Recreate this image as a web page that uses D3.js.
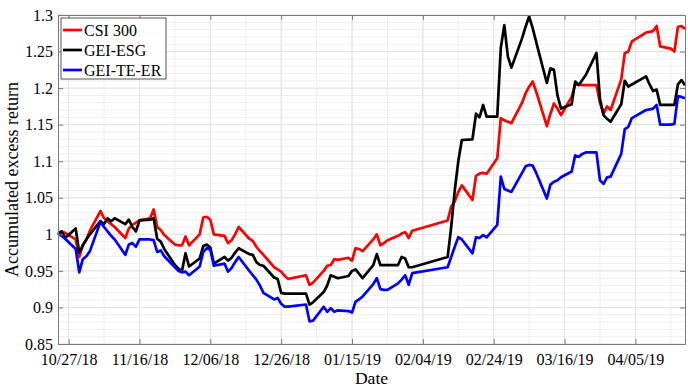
<!DOCTYPE html>
<html><head><meta charset="utf-8">
<script src="https://cdn.jsdelivr.net/npm/d3@7/dist/d3.min.js"></script>
<style>
html,body{margin:0;padding:0;background:#fff;} svg{display:block;}
</style>
</head><body>
<svg id="chart" width="688" height="388"></svg>
<script>
const dates = ["2018-10-24","2018-10-25","2018-10-26","2018-10-29","2018-10-30","2018-10-31","2018-11-01","2018-11-02",
"2018-11-05","2018-11-06","2018-11-07","2018-11-08","2018-11-09","2018-11-12","2018-11-13","2018-11-14","2018-11-15","2018-11-16",
"2018-11-19","2018-11-20","2018-11-21","2018-11-22","2018-11-23","2018-11-26","2018-11-27","2018-11-28","2018-11-29","2018-11-30",
"2018-12-03","2018-12-04","2018-12-05","2018-12-06","2018-12-07","2018-12-10","2018-12-11","2018-12-12","2018-12-13","2018-12-14",
"2018-12-17","2018-12-18","2018-12-19","2018-12-20","2018-12-21","2018-12-24","2018-12-25","2018-12-26","2018-12-27","2018-12-28",
"2019-01-02","2019-01-03","2019-01-04","2019-01-07","2019-01-08","2019-01-09","2019-01-10","2019-01-11","2019-01-14","2019-01-15",
"2019-01-16","2019-01-17","2019-01-18","2019-01-21","2019-01-22","2019-01-23","2019-01-24","2019-01-25","2019-01-28","2019-01-29",
"2019-01-30","2019-01-31","2019-02-01","2019-02-11","2019-02-12","2019-02-13","2019-02-14","2019-02-15","2019-02-18","2019-02-19",
"2019-02-20","2019-02-21","2019-02-22","2019-02-25","2019-02-26","2019-02-27","2019-02-28","2019-03-01","2019-03-04","2019-03-05",
"2019-03-06","2019-03-07","2019-03-08","2019-03-11","2019-03-12","2019-03-13","2019-03-14","2019-03-15","2019-03-18","2019-03-19",
"2019-03-20","2019-03-21","2019-03-22","2019-03-25","2019-03-26","2019-03-27","2019-03-28","2019-03-29","2019-04-01","2019-04-02",
"2019-04-03","2019-04-04","2019-04-08","2019-04-09","2019-04-10","2019-04-11","2019-04-12","2019-04-15","2019-04-16","2019-04-17",
"2019-04-18","2019-04-19"];

const csi300 = [1.002,1.004,1.002,0.993,0.969,0.985,0.993,1.005,
1.032,1.022,1.018,1.014,1.010,0.995,1.008,1.013,1.016,1.019,
1.022,1.034,1.010,1.006,0.999,0.986,0.985,0.985,0.997,0.985,
1.000,1.023,1.024,1.020,1.000,0.998,0.988,0.992,1.000,1.010,
0.994,0.991,0.983,0.977,0.972,0.955,0.952,0.949,0.943,0.939,
0.944,0.931,0.934,0.950,0.957,0.958,0.966,0.965,0.968,0.964,
0.981,0.980,0.977,0.993,1.000,0.985,0.988,0.992,0.998,1.001,
1.003,0.995,1.005,1.019,1.038,1.045,1.058,1.067,1.047,1.080,
1.083,1.084,1.083,1.104,1.159,1.156,1.154,1.152,1.180,1.193,
1.202,1.209,1.195,1.148,1.165,1.179,1.172,1.163,1.188,1.205,
1.205,1.204,1.204,1.204,1.180,1.165,1.175,1.170,1.212,1.248,
1.250,1.264,1.276,1.277,1.278,1.285,1.257,1.254,1.250,1.284,
1.285,1.281];

const geiEsg = [1.000,1.004,0.995,1.008,0.975,0.985,0.993,1.000,
1.018,1.014,1.022,1.018,1.022,1.014,1.020,1.010,1.004,1.019,
1.020,1.022,0.994,0.990,0.980,0.958,0.953,0.950,0.974,0.956,
0.967,0.984,0.986,0.982,0.960,0.969,0.964,0.968,0.975,0.981,
0.973,0.972,0.962,0.958,0.957,0.941,0.939,0.920,0.919,0.919,
0.919,0.904,0.907,0.921,0.930,0.944,0.942,0.940,0.943,0.950,
0.952,0.946,0.940,0.958,0.973,0.958,0.958,0.958,0.958,0.969,
0.967,0.955,0.955,0.969,1.010,1.060,1.100,1.129,1.130,1.165,
1.160,1.177,1.161,1.161,1.255,1.286,1.243,1.228,1.268,1.284,
1.298,1.282,1.263,1.207,1.227,1.225,1.190,1.172,1.178,1.209,
1.204,1.211,1.218,1.248,1.185,1.163,1.158,1.154,1.178,1.210,
1.202,1.205,1.216,1.205,1.196,1.198,1.177,1.177,1.177,1.205,
1.211,1.204];

const geiTeEr = [1.001,0.998,0.994,0.980,0.948,0.966,0.970,0.977,
1.017,1.010,1.004,0.998,0.993,0.972,0.986,0.988,0.983,0.993,
0.993,0.992,0.976,0.978,0.970,0.955,0.950,0.948,0.949,0.944,
0.956,0.976,0.981,0.979,0.957,0.960,0.949,0.954,0.962,0.969,
0.950,0.944,0.938,0.930,0.920,0.911,0.913,0.905,0.901,0.901,
0.904,0.881,0.882,0.901,0.894,0.899,0.894,0.896,0.895,0.893,
0.908,0.911,0.915,0.932,0.940,0.925,0.924,0.924,0.933,0.938,
0.944,0.931,0.947,0.955,0.969,0.983,0.996,0.993,0.974,0.996,
0.995,0.999,0.996,1.013,1.079,1.062,1.060,1.058,1.084,1.093,
1.095,1.094,1.084,1.049,1.068,1.072,1.074,1.078,1.086,1.108,
1.106,1.110,1.112,1.112,1.074,1.069,1.078,1.079,1.110,1.144,
1.147,1.159,1.170,1.171,1.172,1.177,1.150,1.150,1.151,1.189,
1.188,1.186];

const seriesNames = ["CSI 300","GEI-ESG","GEI-TE-ER"];
const seriesColors = ["#ff0000","#000000","#0000ff"];
const xTickDates = ["2018-10-27","2018-11-16","2018-12-06","2018-12-26","2019-01-15","2019-02-04","2019-02-24","2019-03-16","2019-04-05"];
const xTickLabels = ["10/27/18","11/16/18","12/06/18","12/26/18","01/15/19","02/04/19","02/24/19","03/16/19","04/05/19"];
const yTicks = [0.85,0.9,0.95,1,1.05,1.1,1.15,1.2,1.25,1.3];
const yTickLabels = ["0.85","0.9","0.95","1","1.05","1.1","1.15","1.2","1.25","1.3"];

const parse = d3.timeParse("%Y-%m-%d");
const X = dates.map(parse);
const series = [csi300, geiEsg, geiTeEr];

const L = 58, R = 685, T = 15, B = 344;
const svg = d3.select("#chart");
const font = '"Liberation Serif", "Times New Roman", serif';

const x = d3.scaleTime().domain([parse("2018-10-24"), parse("2019-04-19")]).range([L, R]);
const y = d3.scaleLinear().domain([0.85, 1.3]).range([B, T]);

// minor grid
const minorX = d3.timeDay.range(parse("2018-10-27"), parse("2019-04-20"), 1).filter((d,i)=> i % 10 === 0);
const minorY = d3.range(85, 131).map(v => v/100);
const g = svg.append("g");
g.selectAll(".mx").data(minorX).join("line")
  .attr("x1", d=>x(d)).attr("x2", d=>x(d)).attr("y1", T).attr("y2", B)
  .attr("stroke", "#efefef").attr("stroke-width", 1);
g.selectAll(".my").data(minorY).join("line")
  .attr("x1", L).attr("x2", R).attr("y1", d=>y(d)).attr("y2", d=>y(d))
  .attr("stroke", "#efefef").attr("stroke-width", 1);
// major grid
g.selectAll(".gx").data(xTickDates.map(parse)).join("line")
  .attr("x1", d=>x(d)).attr("x2", d=>x(d)).attr("y1", T).attr("y2", B)
  .attr("stroke", "#e2e2e2").attr("stroke-width", 1);
g.selectAll(".gy").data(yTicks).join("line")
  .attr("x1", L).attr("x2", R).attr("y1", d=>y(d)).attr("y2", d=>y(d))
  .attr("stroke", "#e2e2e2").attr("stroke-width", 1);

// lines
const line = d3.line().x((d,i)=>x(X[i])).y(d=>y(d));
series.forEach((s, k) => {
  svg.append("path").datum(s).attr("d", line)
    .attr("fill", "none").attr("stroke", seriesColors[k])
    .attr("stroke-width", 2.7).attr("stroke-linejoin", "round");
});

// axes
const xAxis = d3.axisBottom(x).tickValues(xTickDates.map(parse))
  .tickFormat((d,i)=>xTickLabels[i]).tickSizeInner(-5).tickSizeOuter(0).tickPadding(10);
const yAxis = d3.axisLeft(y).tickValues(yTicks)
  .tickFormat((d,i)=>yTickLabels[i]).tickSizeInner(-5).tickSizeOuter(0).tickPadding(5);
const xTop = d3.axisTop(x).tickValues(xTickDates.map(parse)).tickFormat("").tickSizeInner(-5).tickSizeOuter(0);
const yRight = d3.axisRight(y).tickValues(yTicks).tickFormat("").tickSizeInner(-5).tickSizeOuter(0);

const axColor = "#7a7a7a";
function style(sel){
  sel.attr("font-family", null);
  sel.select(".domain").attr("stroke", axColor).attr("stroke-width", 1);
  sel.selectAll(".tick line").attr("stroke", axColor);
  sel.selectAll(".tick text").attr("fill", "#000").style("font-family", font).attr("font-size", 16);
}
svg.append("g").attr("transform", `translate(0,${B})`).call(xAxis).call(style);
svg.append("g").attr("transform", `translate(${L},0)`).call(yAxis).call(style);
svg.append("g").attr("transform", `translate(0,${T})`).call(xTop).call(style);
svg.append("g").attr("transform", `translate(${R},0)`).call(yRight).call(style);

// axis labels
svg.append("text").attr("x", (L+R)/2).attr("y", 384).attr("text-anchor", "middle")
  .style("font-family", font).attr("font-size", 17.6).text("Date");
svg.append("text").attr("transform", `translate(18,${(T+B)/2}) rotate(-90)`).attr("text-anchor", "middle")
  .style("font-family", font).attr("font-size", 18).text("Accumulated excess return");

// legend
const lg = svg.append("g");
lg.append("rect").attr("x", 61).attr("y", 18).attr("width", 105).attr("height", 61)
  .attr("fill", "#fff").attr("stroke", "#555").attr("stroke-width", 1);
seriesNames.forEach((n, k) => {
  const cy = 30 + k*20;
  lg.append("line").attr("x1", 63).attr("x2", 82).attr("y1", cy).attr("y2", cy)
    .attr("stroke", seriesColors[k]).attr("stroke-width", 2.7);
  lg.append("text").attr("x", 84).attr("y", cy + 5.5).style("font-family", font)
    .attr("font-size", 16).text(n);
});
</script>
</body></html>
